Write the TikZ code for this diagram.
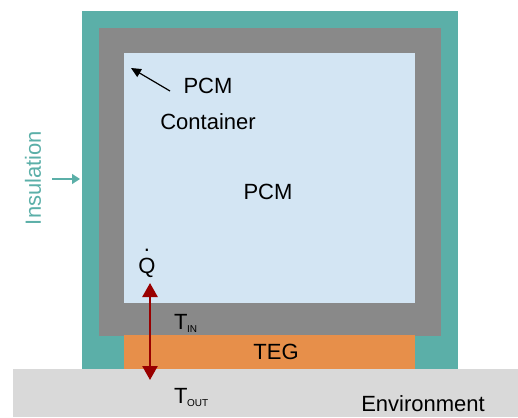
\documentclass[tikz,border=0pt]{standalone}
\usepackage{fontspec}
\setmainfont{Liberation Sans}
\usetikzlibrary{arrows.meta}
\definecolor{insul}{HTML}{5BAFA8}
\definecolor{contg}{HTML}{898989}
\definecolor{pcmblue}{HTML}{D3E5F3}
\definecolor{tegor}{HTML}{E78F4A}
\definecolor{envg}{HTML}{D9D9D9}
\definecolor{heatred}{HTML}{990000}
\tikzset{
  lbl/.style={font=\fontsize{22}{24}\selectfont, inner sep=0pt, text=black},
  block/.style={draw=none, inner sep=0pt}
}
\begin{document}
\begin{tikzpicture}[x=1pt,y=-1pt]
\useasboundingbox (0,0) rectangle (518,417);
% blocks
\fill[envg] (13,369) rectangle (518,417);
\fill[insul] (82,11) rectangle (458,369);
\fill[contg] (99,28) rectangle (441,336);
\fill[pcmblue] (124,53) rectangle (415,303);
\fill[tegor] (124,335) rectangle (415,369);
% labels
\node[lbl] (pcmc) at (208,86) {PCM};
\node[lbl] (cont) at (208,122) {Container};
\node[lbl] (pcm) at (268,192) {PCM};
\node[lbl] (teg) at (276,352) {TEG};
\node[lbl] (env) at (423,404) {Environment};
\node[lbl, anchor=base] (q) at (147,273) {\ooalign{\hfil\raisebox{22pt}{.}\hfil\cr Q}};
\node[lbl, anchor=base west] (tin) at (174,329) {T\kern-0.5pt\raisebox{-3pt}{\fontsize{10}{10}\selectfont IN}};
\node[lbl, anchor=base west] (tout) at (174,403) {T\kern-0.5pt\raisebox{-3pt}{\fontsize{10}{10}\selectfont OUT}};
\node[lbl, text=insul, rotate=90] (ins) at (33,178) {Insulation};
% connectors
\coordinate (pa) at (170,91);
\coordinate (pb) at (131,68);
\draw[line width=1.2pt, -{Triangle[length=10pt,width=9pt]}] (pa) -- (pb);
\coordinate (ia) at (52,179);
\coordinate (ib) at (80,179);
\draw[insul, line width=1.4pt, -{Triangle[length=8pt,width=10pt]}] (ia) -- (ib);
\coordinate (ha) at (150,283);
\coordinate (hb) at (150,380);
\draw[heatred, line width=2.6pt, {Triangle[length=14pt,width=15pt]}-{Triangle[length=14pt,width=15pt]}] (ha) -- (hb);
\end{tikzpicture}
\end{document}
